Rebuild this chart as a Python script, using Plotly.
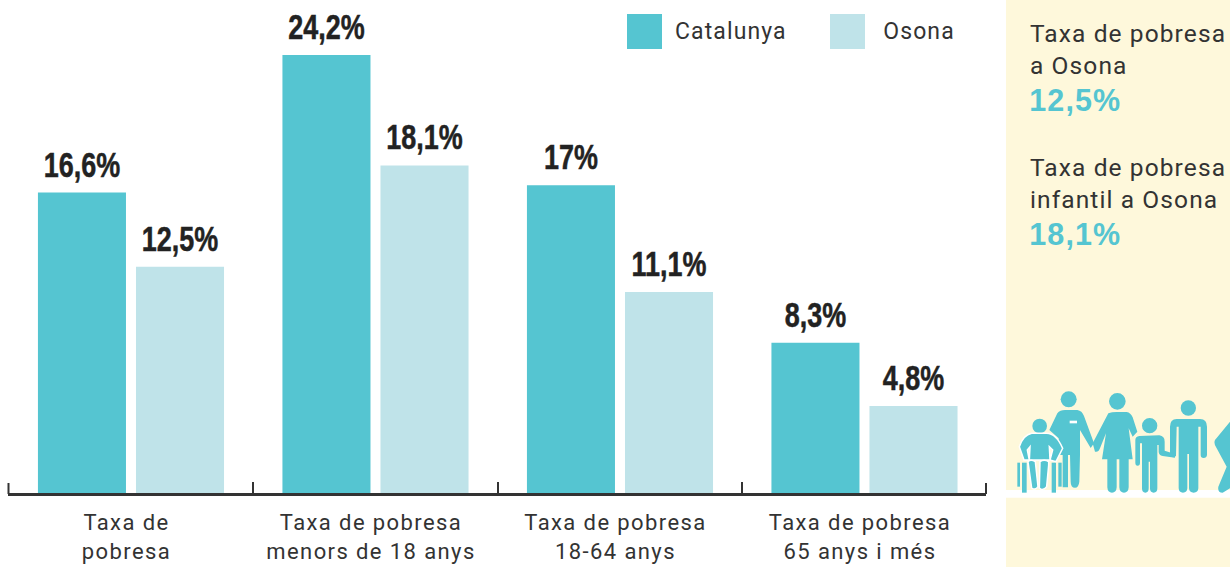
import re
import plotly.graph_objects as go

categories = ["Taxa de<br>pobresa", "Taxa de pobresa<br>menors de 18 anys",
              "Taxa de pobresa<br>18-64 anys", "Taxa de pobresa<br>65 anys i més"]
catalunya = [16.6, 24.2, 17, 8.3]
osona = [12.5, 18.1, 11.1, 4.8]
series_names = ["Catalunya", "Osona"]
side_titles = ["Taxa de pobresa<br>a Osona", "Taxa de pobresa<br>infantil a Osona"]
side_values = ["12,5%", "18,1%"]

TEAL = "#55c5d1"
PALE = "#bfe3e9"
PANEL = "#fef8db"
INK = "#333333"
W, H = 1230, 567
L, R, T, B = 8, 986, 0, 493
SANS = "Roboto, 'Liberation Sans', sans-serif"
BOLD = "'Liberation Sans', sans-serif"


def fmt(v):
    return f"{v:g}".replace(".", ",") + "%"


def px(x):
    return (x - L) / (R - L)


def py(y):
    return (B - y) / (B - T)


def zoom_path(d):
    """Icon paths are drawn in the 3x crop's coordinates."""
    toks = re.findall(r"[A-Za-z]|-?[\d.]+", d)
    out, is_x = [], True
    for t in toks:
        if t.isalpha():
            out.append(t)
            is_x = True
        else:
            v = float(t)
            out.append(f"{px(1000 + v / 3):.5f}" if is_x else f"{py(380 + v / 3):.5f}")
            is_x = not is_x
    return " ".join(out)


shapes = [
    dict(type="rect", xref="paper", yref="paper", x0=px(1006), x1=px(1230), y0=py(0), y1=py(567),
         fillcolor=PANEL, line_width=0, layer="below"),
    dict(type="rect", xref="paper", yref="paper", x0=px(1006), x1=px(1230), y0=py(490), y1=py(497.7),
         fillcolor="white", line_width=0, layer="below"),
    dict(type="rect", xref="paper", yref="paper", x0=px(627), x1=px(662), y0=py(14), y1=py(49),
         fillcolor=TEAL, line_width=0),
    dict(type="rect", xref="paper", yref="paper", x0=px(830), x1=px(865), y0=py(14), y1=py(49),
         fillcolor=PALE, line_width=0),
    dict(type="line", xref="paper", yref="paper", x0=px(8.5), x1=px(8.5), y0=py(483), y1=py(494),
         line=dict(color="#333333", width=2)),
    dict(type="line", xref="paper", yref="paper", x0=px(986), x1=px(986), y0=py(483), y1=py(494),
         line=dict(color="#333333", width=2)),
]


def add_path(d, fill=TEAL, line=None):
    shapes.append(dict(type="path", xref="paper", yref="paper", path=zoom_path(d), fillcolor=fill,
                       line=dict(color=line or fill, width=1.5 if line else 0)))


def add_head(cx, cy, r):
    shapes.append(dict(type="circle", xref="paper", yref="paper",
                       x0=px(1000 + (cx - r) / 3), x1=px(1000 + (cx + r) / 3),
                       y0=py(380 + (cy - r) / 3), y1=py(380 + (cy + r) / 3),
                       fillcolor=TEAL, line_width=0))


# nurse
add_head(206, 58, 24)
add_path("M172 100 Q180 90 195 90 L232 90 Q246 92 252 108 L282 190 L272 204 L240 150 L240 225 L238 305 "
         "Q236 323 225 323 Q212 323 212 305 L210 225 L204 225 L204 322 L188 322 L188 225 L172 225 "
         "L176 175 L148 150 Z")
add_path("M209 122 L231 122 L231 130 L209 130 Z", fill="white")
# woman
add_head(352, 64, 25)
add_path("M325 100 Q335 96 350 96 L380 96 Q392 98 398 112 L412 155 L398 170 L386 145 L398 238 L386 238 "
         "L386 322 Q385 338 372 338 Q359 338 358 322 L358 238 L350 238 L350 322 Q349 338 336 338 "
         "Q323 338 322 322 L322 238 L306 238 L318 160 L300 205 Q295 218 285 215 L278 190 Z")
# child
add_head(449, 137, 23)
add_path("M418 168 L478 166 Q494 168 494 185 L494 212 L525 222 L525 233 L488 228 Q476 225 476 215 "
         "L476 195 L472 195 L472 325 Q472 338 461 338 Q450 338 450 325 L450 245 L446 245 L446 325 "
         "Q446 338 436 338 Q426 338 426 325 L426 190 L420 190 L420 248 Q420 257 413 257 Q406 257 406 248 "
         "L406 180 Q406 170 418 168 Z")
# man
add_head(565, 84, 23)
add_path("M530 117 L600 117 Q621 118 621 140 L621 225 Q620 234 611 234 Q602 234 602 225 L602 140 L595 140 "
         "L595 325 Q594 338 581 338 Q568 338 567 325 L567 222 L562 222 L562 325 Q561 338 549 338 "
         "Q537 338 536 325 L536 140 L530 140 L528 228 Q520 235 510 228 L510 140 Q510 118 530 117 Z")
# elderly figure cut by the page edge
add_path("M690 125 L645 180 Q640 190 650 205 L680 260 L655 320 Q652 338 668 338 L690 325 Z")
# wheelchair user
add_head(119, 138, 22)
add_path("M52 248 L60 248 L60 320 L52 320 Z")
add_path("M66 248 L80 248 L80 338 L66 338 Z")
add_path("M175 248 L185 248 L185 320 L175 320 Z")
add_path("M155 248 L168 248 L168 338 L155 338 Z")
add_path("M95 160 L140 160 Q168 160 188 205 L168 245 L150 240 L158 210 L148 200 L150 240 L88 240 L90 200 "
         "L82 210 L88 240 L72 240 L58 200 Q70 165 95 160 Z", line="white")
add_path("M84 245 Q92 236 106 245 L114 320 Q105 332 95 324 Z", line="white")
add_path("M120 245 Q132 236 146 245 L146 255 L140 320 Q128 334 118 324 Z", line="white")

annotations = [
    dict(xref="paper", yref="paper", x=px(678), y=py(31), text=series_names[0], showarrow=False,
         xanchor="left", yanchor="middle", font=dict(family=SANS, size=23, color=INK, weight=400)),
    dict(xref="paper", yref="paper", x=px(884), y=py(31), text=series_names[1], showarrow=False,
         xanchor="left", yanchor="middle", font=dict(family=SANS, size=23, color=INK, weight=400)),
]
for title, value, y_title, y_val in zip(side_titles, side_values, [49.5, 183], [100, 234]):
    annotations.append(dict(xref="paper", yref="paper", x=px(1027.5), y=py(y_title), text=title,
                            showarrow=False, xanchor="left", yanchor="middle", align="left",
                            font=dict(family=SANS, size=24.5, color=INK, weight=400)))
    annotations.append(dict(xref="paper", yref="paper", x=px(1030), y=py(y_val), text=value,
                            showarrow=False, xanchor="left", yanchor="middle",
                            font=dict(family=BOLD, size=30.5, color=TEAL, weight=700)))

label_font = dict(family=BOLD, size=35, color="#222222", weight=700)
fig = go.Figure()
for name, vals, col in zip(series_names, [catalunya, osona], [TEAL, PALE]):
    fig.add_bar(name=name, x=categories, y=vals, marker=dict(color=col, line_width=0),
                text=[fmt(v) for v in vals], textposition="outside", constraintext="none",
                cliponaxis=False, textfont=label_font, textangle=0)

fig.update_layout(
    width=W, height=H, autosize=False, showlegend=False, barmode="group",
    bargap=0.198, bargroupgap=0.102,
    margin=dict(l=L, r=W - R, t=T, b=H - B, pad=0),
    paper_bgcolor="white", plot_bgcolor="rgba(0,0,0,0)",
    shapes=shapes, annotations=annotations,
    xaxis=dict(type="category", categoryorder="array", categoryarray=categories, range=[-0.503, 3.497],
               tickson="boundaries", ticks="inside", ticklen=11, tickwidth=2, tickcolor="#333333",
               showline=True, linecolor="#333333", linewidth=3, showgrid=False, zeroline=False,
               ticklabelstandoff=8, tickangle=0,
               tickfont=dict(family=SANS, size=22, color=INK, weight=400)),
    yaxis=dict(range=[0, 493 / 18.1], visible=False, showgrid=False, zeroline=False),
)

POST = """
document.documentElement.style.margin = '0';
document.body.style.margin = '0';
var st = document.createElement('style');
st.textContent = '.xtick text {letter-spacing: 1.4px;} .annotation-text {letter-spacing: 1.1px;}'
  + ' .bartext {stroke: #222222; stroke-width: 0.5px;}';
document.head.appendChild(st);
document.querySelectorAll('.bartext').forEach(function (t) {
  t.setAttribute('textLength', t.getComputedTextLength() * 0.77);
  t.setAttribute('lengthAdjust', 'spacingAndGlyphs');
  t.setAttribute('transform', 'translate(0,-6) ' + (t.getAttribute('transform') || ''));
});
document.querySelectorAll('.xtick text').forEach(function (t) {
  t.setAttribute('transform', 'translate(-4.5,0) ' + (t.getAttribute('transform') || ''));
});
"""
fig.write_html("out.html", post_script=POST, config={"displayModeBar": False})
